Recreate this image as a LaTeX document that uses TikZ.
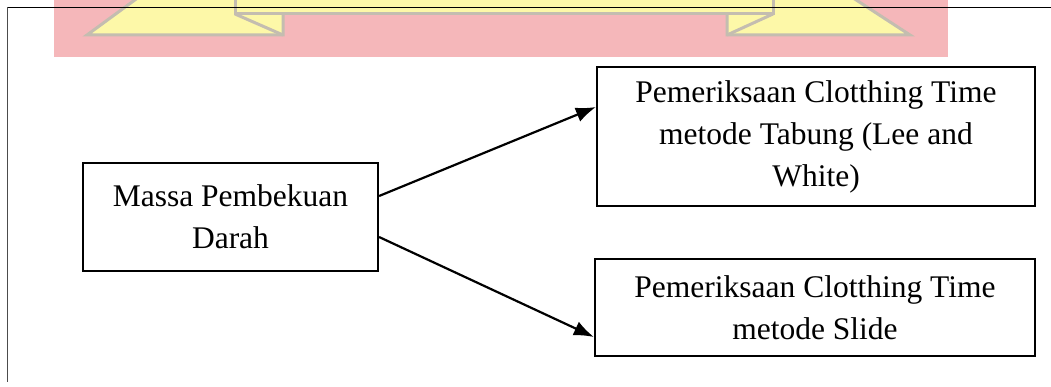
\documentclass[tikz,border=0pt]{standalone}
\usepackage{fontspec}
\setmainfont{Liberation Serif}
\usetikzlibrary{arrows.meta}
\definecolor{wmred}{HTML}{F5B7BA}
\definecolor{wmyel}{HTML}{FDF8A8}
\definecolor{wmgray}{HTML}{C4BDB0}
\begin{document}
\begin{tikzpicture}[x=1pt,y=-1pt,
  box/.style={draw, line width=2.2pt, inner sep=0pt, align=center,
    font=\fontsize{31.5}{42}\selectfont},
  arr/.style={line width=2.2pt, -{Latex[length=20pt,width=15pt]}},
  wmshape/.style={fill=wmyel, draw=wmgray, line width=3pt, line join=miter}]
\useasboundingbox (0,0) rectangle (1051,387);
% watermark
\begin{scope}
\clip (0,0) rectangle (1051,387);
\fill[wmred] (54,-2) rectangle (948,57);
\filldraw[wmshape] (87,35) -- (143,-6) -- (283,-6) -- (283,35) -- cycle;
\filldraw[wmshape] (910,35) -- (847,-6) -- (727,-6) -- (727,35) -- cycle;
\draw[wmgray, line width=3pt] (235,14) -- (283,35);
\draw[wmgray, line width=3pt] (773,14) -- (727,35);
\filldraw[wmshape] (235,-6) rectangle (773,14);
\end{scope}
% frame lines
\draw[black, line width=1pt] (7,8) -- (1051,8);
\draw[black!70, line width=1pt] (7,7) -- (7,382);
% nodes
\node[box, minimum width=295pt, minimum height=108pt] (L) at (230.5,217)
  {Massa Pembekuan\\Darah};
\node[box, minimum width=438pt, minimum height=139pt] (T) at (816,136.5)
  {Pemeriksaan Clotthing Time\\metode Tabung (Lee and\\White)};
\node[box, minimum width=440pt, minimum height=97pt] (B) at (815,307.5)
  {Pemeriksaan Clotthing Time\\metode Slide};
% connectors
\draw[arr] ([yshift=21pt]L.east) -- ([yshift=29.5pt]T.west);
\draw[arr] ([yshift=-20pt]L.east) -- ([yshift=-29.5pt]B.west);
\end{tikzpicture}
\end{document}
